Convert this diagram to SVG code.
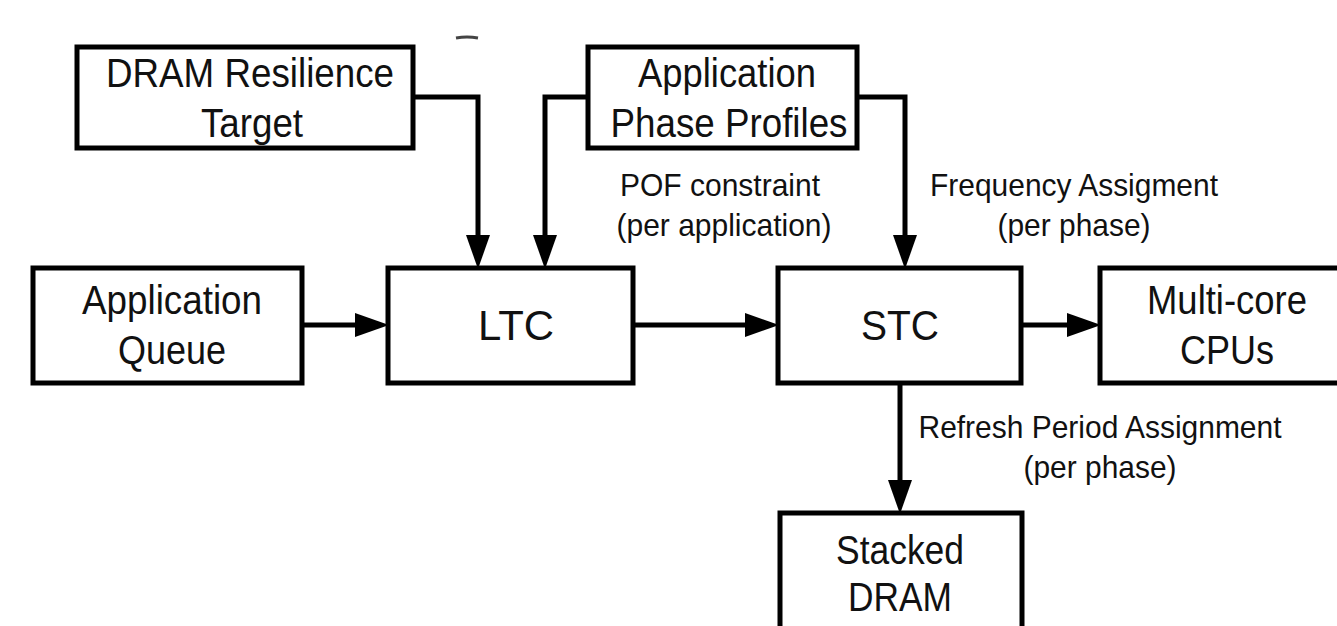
<svg xmlns="http://www.w3.org/2000/svg" width="1337" height="626" viewBox="0 0 1337 626">
<style>
.box{fill:#fff;stroke:#000;stroke-width:5}
.t{font-family:"Liberation Sans",Arial,sans-serif;font-size:40px;fill:#111;text-anchor:middle}
.b{font-size:42px}
.l{font-family:"Liberation Sans",Arial,sans-serif;font-size:32px;fill:#111;text-anchor:middle}
.c{fill:none;stroke:#000;stroke-width:5;marker-end:url(#ah)}
</style>
<defs>
<marker id="ah" markerUnits="userSpaceOnUse" markerWidth="34" markerHeight="24" refX="0" refY="12" orient="auto">
<path d="M0,0 L34,12 L0,24 z" fill="#000"/>
</marker>
</defs>
<rect width="1337" height="626" fill="#fff"/>
<path d="M456,38 Q467,36 478,38" fill="none" stroke="#444" stroke-width="3"/>
<g id="connectors">
<path class="c" d="M413,97 H478 V235"/>
<path class="c" d="M588,97 H545 V235"/>
<path class="c" d="M857,97 H905 V235"/>
<path class="c" d="M302,325 H355"/>
<path class="c" d="M633,325 H745"/>
<path class="c" d="M1021,325 H1067"/>
<path class="c" d="M900,383 V480"/>
</g>
<g id="labels">
<text class="l" x="720" y="196" textLength="200" lengthAdjust="spacingAndGlyphs">POF constraint</text>
<text class="l" x="724" y="236" textLength="215" lengthAdjust="spacingAndGlyphs">(per application)</text>
<text class="l" x="1074" y="196" textLength="288" lengthAdjust="spacingAndGlyphs">Frequency Assigment</text>
<text class="l" x="1074" y="236" textLength="153" lengthAdjust="spacingAndGlyphs">(per phase)</text>
<text class="l" x="1100" y="438" textLength="363" lengthAdjust="spacingAndGlyphs">Refresh Period Assignment</text>
<text class="l" x="1100" y="478" textLength="153" lengthAdjust="spacingAndGlyphs">(per phase)</text>
</g>
<g id="dram-target">
<rect class="box" x="77" y="47" width="336" height="101"/>
<text class="t" x="250" y="87" textLength="288" lengthAdjust="spacingAndGlyphs">DRAM Resilience</text>
<text class="t" x="252" y="137" textLength="102" lengthAdjust="spacingAndGlyphs">Target</text>
</g>
<g id="phase-profiles">
<rect class="box" x="588" y="47" width="269" height="101"/>
<text class="t" x="727" y="87" textLength="178" lengthAdjust="spacingAndGlyphs">Application</text>
<text class="t" x="729" y="137" textLength="237" lengthAdjust="spacingAndGlyphs">Phase Profiles</text>
</g>
<g id="app-queue">
<rect class="box" x="33" y="268" width="269" height="115"/>
<text class="t" x="172" y="314" textLength="180" lengthAdjust="spacingAndGlyphs">Application</text>
<text class="t" x="172" y="364" textLength="108" lengthAdjust="spacingAndGlyphs">Queue</text>
</g>
<g id="ltc">
<rect class="box" x="388" y="268" width="245" height="115"/>
<text class="t b" x="516" y="340" textLength="76" lengthAdjust="spacingAndGlyphs">LTC</text>
</g>
<g id="stc">
<rect class="box" x="778" y="268" width="243" height="115"/>
<text class="t b" x="900" y="340" textLength="78" lengthAdjust="spacingAndGlyphs">STC</text>
</g>
<g id="cpus">
<rect class="box" x="1100" y="268" width="250" height="115"/>
<text class="t" x="1227" y="314" textLength="160" lengthAdjust="spacingAndGlyphs">Multi-core</text>
<text class="t" x="1227" y="364" textLength="94" lengthAdjust="spacingAndGlyphs">CPUs</text>
</g>
<g id="stacked-dram">
<rect class="box" x="780" y="513" width="242" height="130"/>
<text class="t" x="900" y="564" textLength="128" lengthAdjust="spacingAndGlyphs">Stacked</text>
<text class="t" x="900" y="611" textLength="104" lengthAdjust="spacingAndGlyphs">DRAM</text>
</g>
</svg>
